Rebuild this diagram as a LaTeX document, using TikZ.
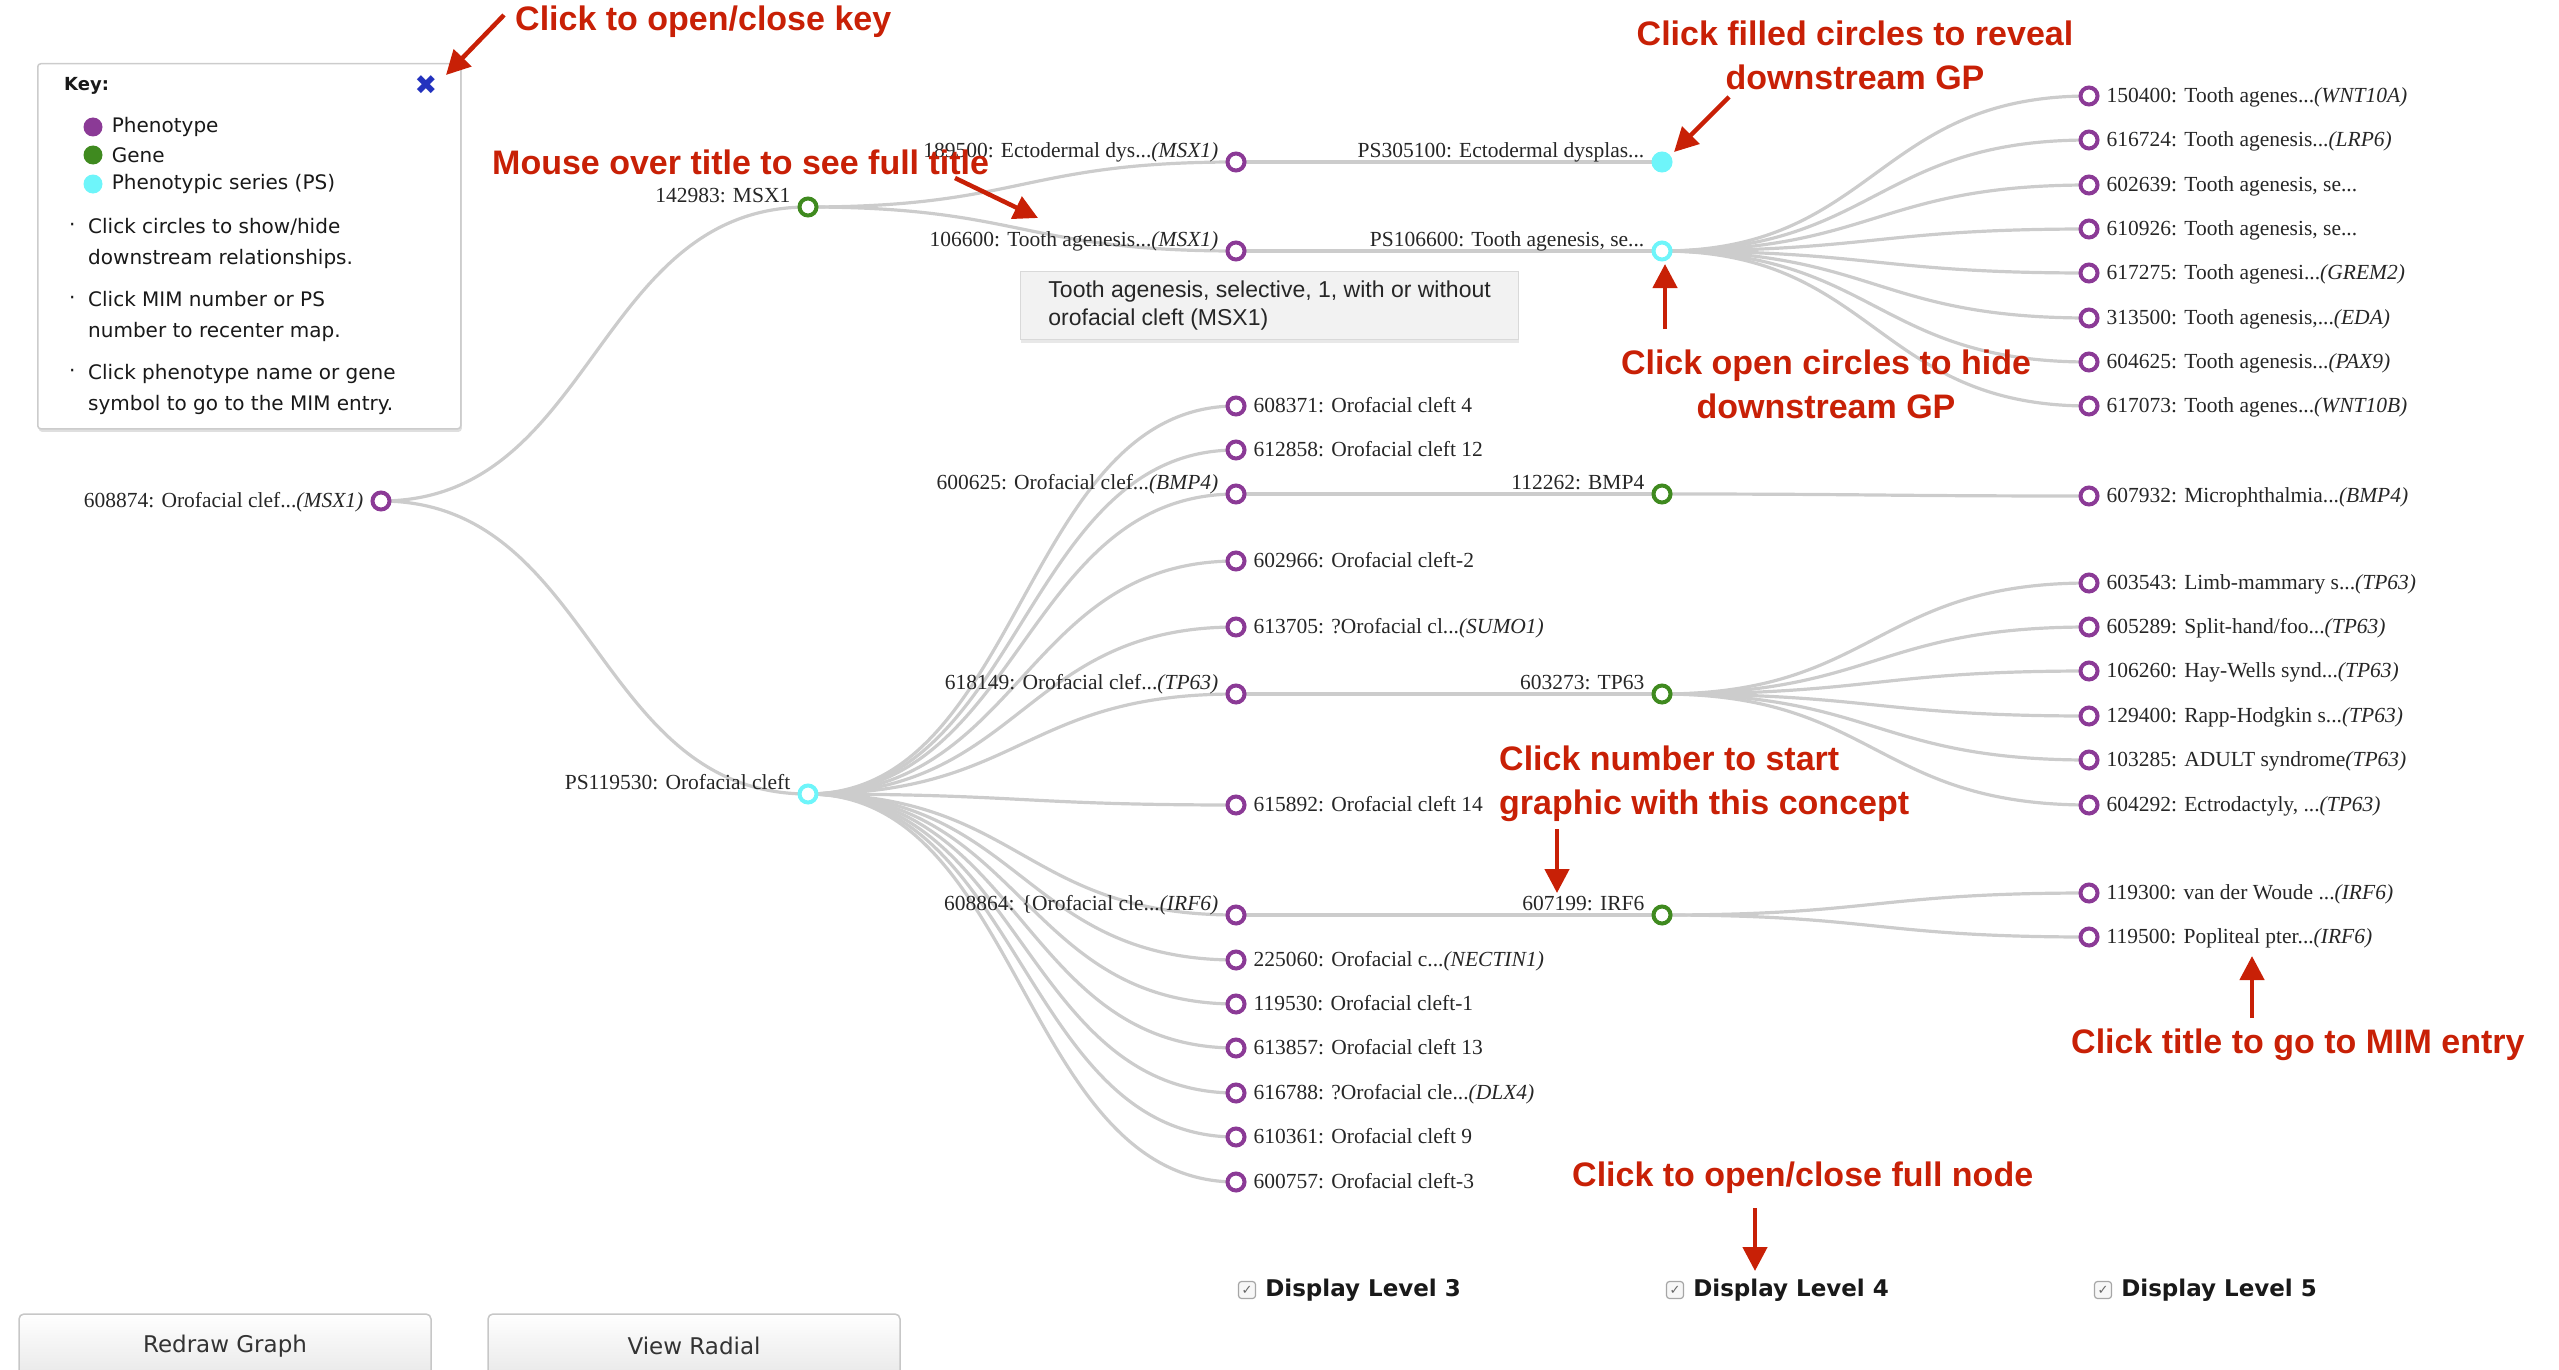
\documentclass[tikz,border=0pt]{standalone}
\usepackage{fontspec}
\setmainfont{Liberation Serif}
\newfontfamily\keyfont{DejaVu Sans}
\newfontfamily\notefont{Liberation Sans}
\usetikzlibrary{positioning, arrows.meta, calc, backgrounds, shadows}
\definecolor{phcol}{RGB}{139,58,150}
\definecolor{gncol}{RGB}{63,138,31}
\definecolor{pscol}{RGB}{110,245,250}
\definecolor{notecol}{RGB}{200,32,6}
\definecolor{xcol}{RGB}{35,50,190}
\tikzstyle{arrow} = [line width=4.5pt, draw=notecol, -{Triangle[length=24pt,width=24pt]}]
\tikzstyle{hint} = [text=notecol, inner sep=0pt, font=\notefont\bfseries\fontsize{34}{44}\selectfont]
\tikzstyle{phn} = [circle, draw=phcol, line width=4pt, fill=white, minimum size=17pt, inner sep=0pt]
\tikzstyle{gen} = [phn, draw=gncol]
\tikzstyle{pss} = [phn, draw=pscol]
\tikzstyle{pssb} = [phn, draw=pscol, fill=pscol]
\tikzstyle{lbl} = [inner sep=0pt, text=black!85, font=\fontsize{21.5}{24}\selectfont, text height=16pt, text depth=3pt]
\tikzstyle{link} = [draw=black!20, line width=3.2pt]
\tikzstyle{keytxt} = [inner sep=0pt, anchor=west, align=left, text=black!90, font=\keyfont\fontsize{20}{31}\selectfont]
\tikzstyle{dot} = [circle, minimum size=19pt, inner sep=0pt]
\tikzstyle{btn} = [draw=black!22, line width=1.5pt, rounded corners=5pt, minimum width=412pt, minimum height=64pt, top color=white, bottom color=black!9, text=black!80, font=\keyfont\fontsize{23}{28}\selectfont]
\tikzstyle{chk} = [draw=black!35, line width=1.2pt, rounded corners=3pt, minimum size=17pt, inner sep=0pt, fill=black!3, text=black!60, font=\keyfont\fontsize{13}{13}\selectfont]
\tikzstyle{lvl} = [inner sep=0pt, text=black!90, font=\keyfont\bfseries\fontsize{23}{28}\selectfont]
\newcommand{\diag}[2]{\draw [link] let \p1=(#1), \p2=(#2) in (\p1) .. controls ({(\x1+\x2)/2},\y1) and ({(\x1+\x2)/2},\y2) .. (\p2);}

\begin{document}
\begin{tikzpicture}[x=1pt, y=-1pt]
\useasboundingbox (0,0) rectangle (2559,1370);

\node (keybox) [draw=black!20, line width=1.5pt, fill=white, rounded corners=3pt, anchor=north west, minimum width=423pt, minimum height=365pt, drop shadow={shadow xshift=1pt, shadow yshift=-3pt, fill=black!25}] at (37,63) {};
\node (keyttl) [keytxt, font=\keyfont\bfseries\fontsize{18}{22}\selectfont] at (64,86) {Key:};
\node (keyx) [text=xcol, inner sep=0pt, font=\keyfont\fontsize{27}{28}\selectfont] at (426,85) {✖};
\node (dph) [dot, fill=phcol] at (93,127) {};
\node (tph) [keytxt, right=9pt of dph] {Phenotype};
\node (dgn) [dot, fill=gncol] at (93,155) {};
\node (tgn) [keytxt, right=9pt of dgn] {Gene};
\node (dps) [dot, fill=pscol] at (93,184) {};
\node (tps) [keytxt, right=9pt of dps] {Phenotypic series (PS)};
\node (kd1) [keytxt] at (69,227) {·};
\node (kb1) [keytxt] at (88,243) {Click circles to show/hide\\downstream relationships.};
\node (kd2) [keytxt] at (69,300) {·};
\node (kb2) [keytxt] at (88,316) {Click MIM number or PS\\number to recenter map.};
\node (kd3) [keytxt] at (69,373) {·};
\node (kb3) [keytxt] at (88,389) {Click phenotype name or gene\\symbol to go to the MIM entry.};

\node (r608874) [phn] at (381,501) {};
\node (tr608874) [lbl, left=7pt of r608874] {608874: Orofacial clef...\textit{(MSX1)}};
\node (g142983) [gen] at (808,207) {};
\node (tg142983) [lbl, left=7pt of g142983, yshift=11pt] {142983: MSX1};
\node (s119530) [pss] at (808,794) {};
\node (ts119530) [lbl, left=7pt of s119530, yshift=11pt] {PS119530: Orofacial cleft};

\node (p189500) [phn] at (1236,162) {};
\node (tp189500) [lbl, left=7pt of p189500, yshift=11pt] {189500: Ectodermal dys...\textit{(MSX1)}};
\node (p106600) [phn] at (1236,251) {};
\node (tp106600) [lbl, left=7pt of p106600, yshift=11pt] {106600: Tooth agenesis...\textit{(MSX1)}};
\node (p608371) [phn] at (1236,406) {};
\node (tp608371) [lbl, right=7pt of p608371] {608371: Orofacial cleft 4};
\node (p612858) [phn] at (1236,450) {};
\node (tp612858) [lbl, right=7pt of p612858] {612858: Orofacial cleft 12};
\node (p600625) [phn] at (1236,494) {};
\node (tp600625) [lbl, left=7pt of p600625, yshift=11pt] {600625: Orofacial clef...\textit{(BMP4)}};
\node (p602966) [phn] at (1236,561) {};
\node (tp602966) [lbl, right=7pt of p602966] {602966: Orofacial cleft-2};
\node (p613705) [phn] at (1236,627) {};
\node (tp613705) [lbl, right=7pt of p613705] {613705: ?Orofacial cl...\textit{(SUMO1)}};
\node (p618149) [phn] at (1236,694) {};
\node (tp618149) [lbl, left=7pt of p618149, yshift=11pt] {618149: Orofacial clef...\textit{(TP63)}};
\node (p615892) [phn] at (1236,805) {};
\node (tp615892) [lbl, right=7pt of p615892] {615892: Orofacial cleft 14};
\node (p608864) [phn] at (1236,915) {};
\node (tp608864) [lbl, left=7pt of p608864, yshift=11pt] {608864: \{Orofacial cle...\textit{(IRF6)}};
\node (p225060) [phn] at (1236,960) {};
\node (tp225060) [lbl, right=7pt of p225060] {225060: Orofacial c...\textit{(NECTIN1)}};
\node (p119530) [phn] at (1236,1004) {};
\node (tp119530) [lbl, right=7pt of p119530] {119530: Orofacial cleft-1};
\node (p613857) [phn] at (1236,1048) {};
\node (tp613857) [lbl, right=7pt of p613857] {613857: Orofacial cleft 13};
\node (p616788) [phn] at (1236,1093) {};
\node (tp616788) [lbl, right=7pt of p616788] {616788: ?Orofacial cle...\textit{(DLX4)}};
\node (p610361) [phn] at (1236,1137) {};
\node (tp610361) [lbl, right=7pt of p610361] {610361: Orofacial cleft 9};
\node (p600757) [phn] at (1236,1182) {};
\node (tp600757) [lbl, right=7pt of p600757] {600757: Orofacial cleft-3};

\node (s305100) [pssb] at (1662,162) {};
\node (ts305100) [lbl, left=7pt of s305100, yshift=11pt] {PS305100: Ectodermal dysplas...};
\node (s106600) [pss] at (1662,251) {};
\node (ts106600) [lbl, left=7pt of s106600, yshift=11pt] {PS106600: Tooth agenesis, se...};
\node (g112262) [gen] at (1662,494) {};
\node (tg112262) [lbl, left=7pt of g112262, yshift=11pt] {112262: BMP4};
\node (g603273) [gen] at (1662,694) {};
\node (tg603273) [lbl, left=7pt of g603273, yshift=11pt] {603273: TP63};
\node (g607199) [gen] at (1662,915) {};
\node (tg607199) [lbl, left=7pt of g607199, yshift=11pt] {607199: IRF6};

\node (q150400) [phn] at (2089,96) {};
\node (tq150400) [lbl, right=7pt of q150400] {150400: Tooth agenes...\textit{(WNT10A)}};
\node (q616724) [phn] at (2089,140) {};
\node (tq616724) [lbl, right=7pt of q616724] {616724: Tooth agenesis...\textit{(LRP6)}};
\node (q602639) [phn] at (2089,185) {};
\node (tq602639) [lbl, right=7pt of q602639] {602639: Tooth agenesis, se...};
\node (q610926) [phn] at (2089,229) {};
\node (tq610926) [lbl, right=7pt of q610926] {610926: Tooth agenesis, se...};
\node (q617275) [phn] at (2089,273) {};
\node (tq617275) [lbl, right=7pt of q617275] {617275: Tooth agenesi...\textit{(GREM2)}};
\node (q313500) [phn] at (2089,318) {};
\node (tq313500) [lbl, right=7pt of q313500] {313500: Tooth agenesis,...\textit{(EDA)}};
\node (q604625) [phn] at (2089,362) {};
\node (tq604625) [lbl, right=7pt of q604625] {604625: Tooth agenesis...\textit{(PAX9)}};
\node (q617073) [phn] at (2089,406) {};
\node (tq617073) [lbl, right=7pt of q617073] {617073: Tooth agenes...\textit{(WNT10B)}};
\node (q607932) [phn] at (2089,496) {};
\node (tq607932) [lbl, right=7pt of q607932] {607932: Microphthalmia...\textit{(BMP4)}};
\node (q603543) [phn] at (2089,583) {};
\node (tq603543) [lbl, right=7pt of q603543] {603543: Limb-mammary s...\textit{(TP63)}};
\node (q605289) [phn] at (2089,627) {};
\node (tq605289) [lbl, right=7pt of q605289] {605289: Split-hand/foo...\textit{(TP63)}};
\node (q106260) [phn] at (2089,671) {};
\node (tq106260) [lbl, right=7pt of q106260] {106260: Hay-Wells synd...\textit{(TP63)}};
\node (q129400) [phn] at (2089,716) {};
\node (tq129400) [lbl, right=7pt of q129400] {129400: Rapp-Hodgkin s...\textit{(TP63)}};
\node (q103285) [phn] at (2089,760) {};
\node (tq103285) [lbl, right=7pt of q103285] {103285: ADULT syndrome\textit{(TP63)}};
\node (q604292) [phn] at (2089,805) {};
\node (tq604292) [lbl, right=7pt of q604292] {604292: Ectrodactyly, ...\textit{(TP63)}};
\node (q119300) [phn] at (2089,893) {};
\node (tq119300) [lbl, right=7pt of q119300] {119300: van der Woude ...\textit{(IRF6)}};
\node (q119500) [phn] at (2089,937) {};
\node (tq119500) [lbl, right=7pt of q119500] {119500: Popliteal pter...\textit{(IRF6)}};

\begin{scope}[on background layer]
\diag{r608874}{g142983}
\diag{r608874}{s119530}
\diag{g142983}{p189500}
\diag{g142983}{p106600}
\diag{s119530}{p608371}
\diag{s119530}{p612858}
\diag{s119530}{p600625}
\diag{s119530}{p602966}
\diag{s119530}{p613705}
\diag{s119530}{p618149}
\diag{s119530}{p615892}
\diag{s119530}{p608864}
\diag{s119530}{p225060}
\diag{s119530}{p119530}
\diag{s119530}{p613857}
\diag{s119530}{p616788}
\diag{s119530}{p610361}
\diag{s119530}{p600757}
\diag{p189500}{s305100}
\diag{p106600}{s106600}
\diag{p600625}{g112262}
\diag{p618149}{g603273}
\diag{p608864}{g607199}
\diag{s106600}{q150400}
\diag{s106600}{q616724}
\diag{s106600}{q602639}
\diag{s106600}{q610926}
\diag{s106600}{q617275}
\diag{s106600}{q313500}
\diag{s106600}{q604625}
\diag{s106600}{q617073}
\diag{g112262}{q607932}
\diag{g603273}{q603543}
\diag{g603273}{q605289}
\diag{g603273}{q106260}
\diag{g603273}{q129400}
\diag{g603273}{q103285}
\diag{g603273}{q604292}
\diag{g607199}{q119300}
\diag{g607199}{q119500}
\end{scope}

\node (tooltip) [draw=black!15, line width=1.2pt, fill=black!5, anchor=north west, minimum width=498pt, minimum height=68pt, inner xsep=12pt, align=left, text=black!85, font=\notefont\fontsize{23}{28}\selectfont, drop shadow={opacity=0.18, shadow xshift=0pt, shadow yshift=-3pt}] at (1020,271) {Tooth agenesis, selective, 1, with or without\\orofacial cleft (MSX1)};

\node (nkey) [hint, anchor=west] at (515,22) {Click to open/close key};
\coordinate (keytail) at (504,15);
\coordinate (keytip) at (446,75);
\draw [arrow] (keytail) -- (keytip);
\node (nmouse) [hint, anchor=west] at (492,162) {Mouse over title to see full title};
\coordinate (mousetail) at (955,178);
\coordinate (mousetip) at (1038,218);
\draw [arrow] (mousetail) -- (mousetip);
\node (nfill) [hint, align=center] at (1855,55) {Click filled circles to reveal\\downstream GP};
\coordinate (filltail) at (1729,97);
\coordinate (filltip) at (1674,152);
\draw [arrow] (filltail) -- (filltip);
\node (nopen) [hint, align=center] at (1826,384) {Click open circles to hide\\downstream GP};
\coordinate (opentail) at (1665,329);
\coordinate (opentip) at (1665,264);
\draw [arrow] (opentail) -- (opentip);
\node (nnum) [hint, align=left, anchor=west] at (1499,784) {Click number to start\\graphic with this concept};
\coordinate (numtail) at (1557,829);
\coordinate (numtip) at (1557,893);
\draw [arrow] (numtail) -- (numtip);
\node (ntitle) [hint, anchor=west] at (2071,1045) {Click title to go to MIM entry};
\coordinate (titletail) at (2252,1018);
\coordinate (titletip) at (2252,956);
\draw [arrow] (titletail) -- (titletip);
\node (nfull) [hint, anchor=west] at (1572,1178) {Click to open/close full node};
\coordinate (fulltail) at (1755,1208);
\coordinate (fulltip) at (1755,1271);
\draw [arrow] (fulltail) -- (fulltip);

\node (c3) [chk] at (1247,1290) {✓};
\node (tc3) [lvl, right=9pt of c3] {Display Level 3};
\node (c4) [chk] at (1675,1290) {✓};
\node (tc4) [lvl, right=9pt of c4] {Display Level 4};
\node (c5) [chk] at (2103,1290) {✓};
\node (tc5) [lvl, right=9pt of c5] {Display Level 5};

\node (bredraw) [btn] at (225,1346) {Redraw Graph};
\node (bradial) [btn] at (694,1346) {View Radial};
\end{tikzpicture}
\end{document}
